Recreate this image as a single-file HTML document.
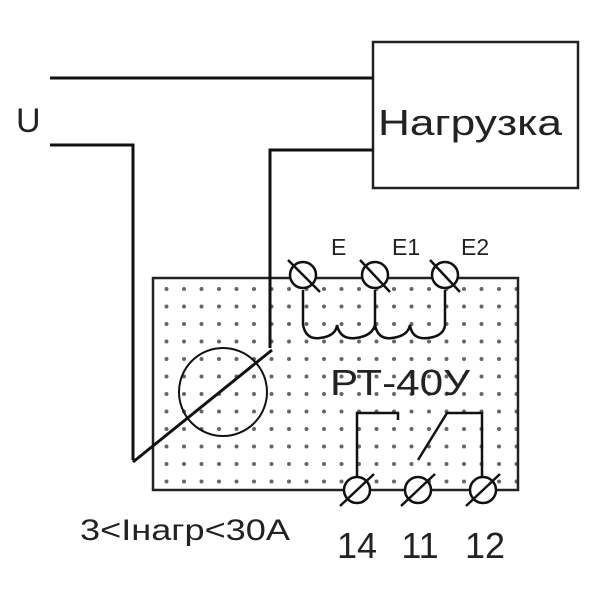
<!DOCTYPE html>
<html><head><style>body{margin:0;background:#fff}svg{display:block}</style></head><body>
<svg width="600" height="600" xmlns="http://www.w3.org/2000/svg" font-family="Liberation Sans, sans-serif">
<defs><pattern id="d" width="17.5" height="17.5" patternUnits="userSpaceOnUse"><circle cx="9" cy="9" r="2" fill="#666"/></pattern></defs>
<rect x="153" y="278" width="365" height="212" fill="url(#d)" stroke="#222" stroke-width="2.5"/>
<rect x="373" y="42" width="205" height="146" fill="#fff" stroke="#222" stroke-width="2.5"/>
<text x="378" y="135" font-size="36" textLength="184" lengthAdjust="spacingAndGlyphs" fill="#222">Нагрузка</text>
<text x="16" y="132" font-size="34" fill="#222">U</text>
<g stroke="#111" stroke-width="3" fill="none">
<polyline points="50,78 373,78"/>
<polyline points="50,145 133,145 133,460"/>
<polyline points="373,150 270,150 270,348"/>
<line x1="133" y1="462" x2="272" y2="350"/>
<circle cx="223" cy="392" r="44" stroke-width="2"/>
<path d="M303,290 V325 M445,290 V325 M375,290 V330" stroke-width="2.5"/>
<path d="M303,325 Q306,340 320,338 Q336,336 337,325 Q340,340 356,338 Q372,336 375,325 Q378,340 392,338 Q408,336 410,325 Q412,340 428,338 Q444,336 445,325" stroke-width="2.5"/>
<polyline points="357,478 357,413 398,413 398,420" stroke-width="2.5"/>
<polyline points="418,460 447,413 482,413 482,478" stroke-width="2.5"/>
</g>
<g stroke="#111" stroke-width="2.5" fill="#fff">
<circle cx="303" cy="275" r="13"/><circle cx="375" cy="275" r="13"/><circle cx="445" cy="275" r="13"/>
<circle cx="357" cy="490" r="13"/><circle cx="418" cy="490" r="13"/><circle cx="483" cy="490" r="13"/>
<path d="M288,260 L320,292 M360,260 L390,292 M430,260 L460,292"/>
<path d="M340,506 L374,474 M401,506 L435,474 M466,506 L500,474"/>
</g>
<g fill="#222">
<text x="331" y="255" font-size="23">E</text>
<text x="392" y="255" font-size="23">E1</text>
<text x="461" y="255" font-size="23">E2</text>
<text x="330" y="395" font-size="36" textLength="140" lengthAdjust="spacingAndGlyphs">РТ-40У</text>
<text x="80" y="540" font-size="30" textLength="210" lengthAdjust="spacingAndGlyphs">3&lt;Iнагр&lt;30А</text>
<text x="357" y="558" font-size="36" text-anchor="middle">14</text>
<text x="420" y="558" font-size="36" text-anchor="middle">11</text>
<text x="485" y="558" font-size="36" text-anchor="middle">12</text>
</g>
</svg>
</body></html>
